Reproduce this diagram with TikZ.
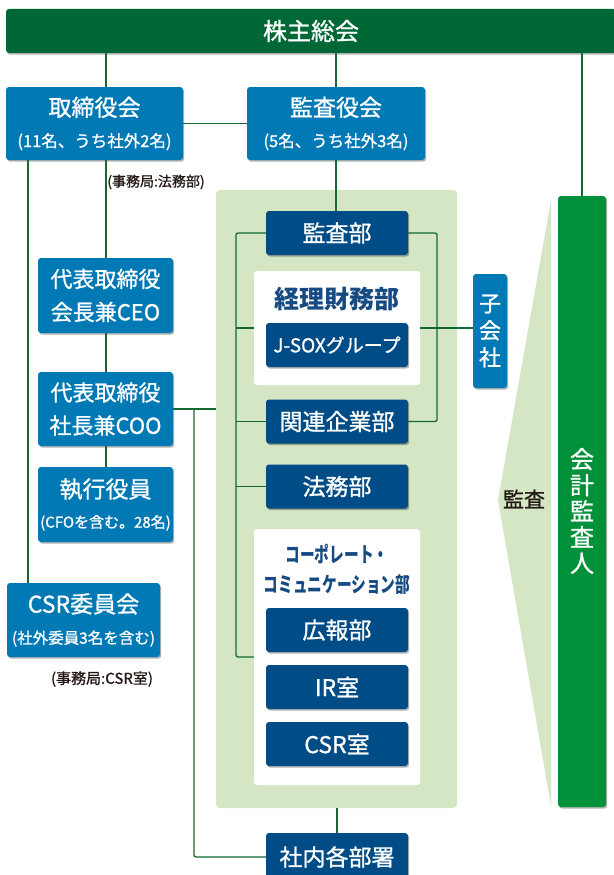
\documentclass[tikz,border=0pt]{standalone}
\usepackage{fontspec}
\usepackage{graphicx}
\setmainfont{Noto Sans CJK JP}[UprightFeatures={FakeBold=1.0}]
\usetikzlibrary{shadows}
\definecolor{barGreen}{RGB}{0,104,55}
\definecolor{lineGreen}{RGB}{20,105,50}
\definecolor{boxBlue}{RGB}{0,121,181}
\definecolor{boxNavy}{RGB}{0,76,134}
\definecolor{panelGreen}{RGB}{212,230,196}
\definecolor{audGreen}{RGB}{0,145,58}
\definecolor{txtDark}{RGB}{35,24,21}
\definecolor{titleNavy}{RGB}{22,74,130}
\tikzset{
  base/.style={rectangle, rounded corners=3pt, inner sep=0pt, align=center, text=white},
  shad/.style={drop shadow={shadow xshift=1.2pt, shadow yshift=-1.6pt, opacity=0.3, fill=black}},
  bluebox/.style={base, shad, fill=boxBlue},
  navybox/.style={base, shad, fill=boxNavy, minimum width=142pt, minimum height=44pt, font=\fontsize{23}{26}\selectfont},
  wpanel/.style={rectangle, rounded corners=3pt, fill=white, inner sep=0pt, minimum width=166pt},
  conn/.style={draw=lineGreen, line width=1.3pt},
  note/.style={text=txtDark, inner sep=0pt},
}
\begin{document}
\begin{tikzpicture}[x=1pt,y=-1pt]
\useasboundingbox (0,0) rectangle (613,875);
% top bar
\node[base, shad, fill=barGreen, minimum width=610pt, minimum height=44pt, font=\fontsize{24}{28}\selectfont] (bar) at (311,31) {株主総会};
% board and auditors
\node[bluebox, minimum width=177pt, minimum height=73pt, font=\fontsize{23}{31}\selectfont] (bod) at (94.5,123.5) {取締役会\\{\fontsize{16.5}{31}\selectfont (11名、うち社外2名)}};
\node[bluebox, minimum width=178pt, minimum height=73pt, font=\fontsize{23}{31}\selectfont] (asb) at (336,123.5) {監査役会\\{\fontsize{16.5}{31}\selectfont (5名、うち社外3名)}};
\node[note, font=\fontsize{14}{16}\selectfont] (note1) at (156,182) {(事務局:法務部)};
% left column
\node[bluebox, minimum width=135pt, minimum height=75pt, font=\fontsize{22}{33}\selectfont] (ceo) at (105.5,295.5) {代表取締役\\会長兼CEO};
\node[bluebox, minimum width=135pt, minimum height=74pt, font=\fontsize{22}{33}\selectfont] (coo) at (105.5,409) {代表取締役\\社長兼COO};
\node[bluebox, minimum width=135pt, minimum height=75pt, font=\fontsize{23}{30}\selectfont] (exec) at (105.5,504.5) {執行役員\\{\fontsize{15}{30}\selectfont (CFOを含む。28名)}};
\node[bluebox, minimum width=153pt, minimum height=74pt, font=\fontsize{23}{31}\selectfont] (csr) at (83.5,620) {CSR委員会\\{\fontsize{15.5}{31}\selectfont (社外委員3名を含む)}};
\node[note, font=\fontsize{15}{17}\selectfont] (note2) at (102,679) {(事務局:CSR室)};
% central panel
\node[rectangle, rounded corners=4pt, fill=panelGreen, inner sep=0pt, minimum width=241pt, minimum height=618pt] (panel) at (336.5,499) {};
\node[wpanel, minimum height=114pt] (acct) at (337,328) {};
\node[wpanel, minimum height=256pt] (corp) at (337,657) {};
\node[inner sep=0pt, text=titleNavy, font=\fontsize{25}{28}\selectfont\bfseries] (acctT) at (337,299) {経理財務部};
\node[inner sep=0pt, text=titleNavy, align=center, font=\fontsize{21}{30}\selectfont\bfseries] (corpT) at (337,569) {\scalebox{0.7}[1]{コーポレート・}\\\scalebox{0.7}[1]{コミュニケーション部}};
\node[navybox] (audit) at (337,233) {監査部};
\node[navybox, font=\fontsize{19}{22}\selectfont] (jsox) at (337,345) {J-SOXグループ};
\node[navybox] (affil) at (337,421.5) {関連企業部};
\node[navybox] (legal) at (337,486.5) {法務部};
\node[navybox] (pr) at (337,630) {広報部};
\node[navybox] (ir) at (337,687) {IR室};
\node[navybox] (csrroom) at (337,744) {CSR室};
\node[navybox, minimum height=48pt] (shanai) at (337,857) {社内各部署};
% subsidiaries
\node[bluebox, minimum width=34pt, minimum height=114pt, font=\fontsize{22}{27}\selectfont] (sub) at (490,331) {子\\会\\社};
% audit triangle and accounting auditor
\fill[panelGreen] (551,200) -- (498,500) -- (551,806) -- cycle;
\node[note, font=\fontsize{21}{24}\selectfont] (kansa) at (524,499) {監査};
\node[base, shad, fill=audGreen, minimum width=48pt, minimum height=611pt] (auditor) at (582,501.5) {};
\node[inner sep=0pt, align=center, text=white, font=\fontsize{24}{26}\selectfont] (auditorT) at (582,511) {会\\計\\監\\査\\人};
% connectors
\coordinate (xA) at (106,0);
\coordinate (xL0) at (28,0);
\coordinate (xB) at (194,0);
\coordinate (xL) at (236,0);
\coordinate (xR) at (437,0);
\draw[conn] (bar.south -| xA) -- (bod.north -| xA);
\draw[conn] (bar.south -| asb.north) -- (asb.north);
\draw[conn] (bar.south -| auditor.north) -- (auditor.north);
\draw[conn] (bod.east) -- (asb.west);
\draw[conn] (bod.south -| xA) -- (ceo.north -| xA);
\draw[conn] (ceo.south -| xA) -- (coo.north -| xA);
\draw[conn] (coo.south -| xA) -- (exec.north -| xA);
\draw[conn] (bod.south -| xL0) -- (csr.north -| xL0);
\draw[conn] (coo.east) -- (coo.east -| panel.west);
\draw[conn, rounded corners=2pt] (coo.east -| xB) |- (shanai.west);
\draw[conn] (asb.south) -- (asb.south |- audit.north);
\draw[conn] (panel.south -| shanai.north) -- (shanai.north);
\draw[conn, rounded corners=2pt] (audit.west) -| (corp.west -| xL) -- (corp.west);
\draw[conn] (acct.west -| xL) -- (acct.west);
\draw[conn] (affil.west -| xL) -- (affil.west);
\draw[conn] (legal.west -| xL) -- (legal.west);
\draw[conn, rounded corners=2pt] (audit.east) -| (affil.east -| xR) -- (affil.east);
\draw[conn] (acct.east) -- (acct.east -| sub.west);
\end{tikzpicture}
\end{document}
